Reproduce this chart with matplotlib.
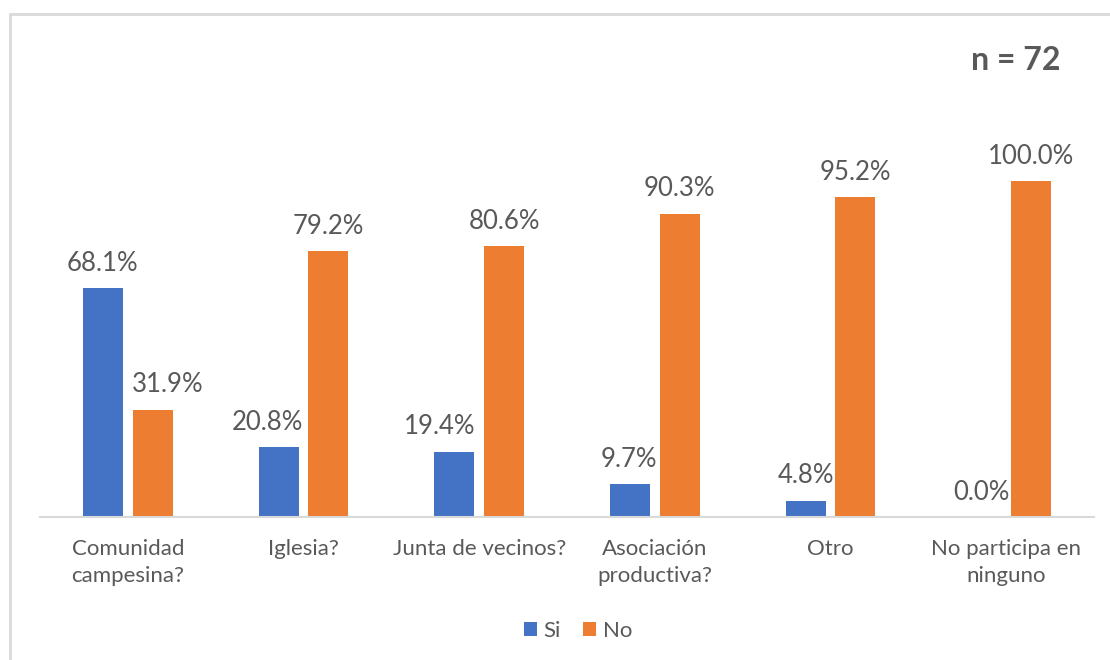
import matplotlib.pyplot as plt
import numpy as np
from matplotlib.patches import Rectangle

plt.rcParams["font.family"] = ["Lato", "DejaVu Sans"]

categories = ["Comunidad\ncampesina?", "Iglesia?", "Junta de vecinos?",
              "Asociación\nproductiva?", "Otro", "No participa en\nninguno"]
si_vals = [68.1, 20.8, 19.4, 9.7, 4.8, 0.0]
no_vals = [31.9, 79.2, 80.6, 90.3, 95.2, 100.0]
series_names = ["Si", "No"]
sample_note = "n = 72"

# horizontal nudges (px) Excel applied so labels don't collide with neighbours
si_nudge = [0, -11, -15, -1, 0, 0]
no_nudge = [15, 0, 0, 0, 0, 0]

BLUE = "#4472C4"
ORANGE = "#ED7D31"
TEXT = "#595959"

W, H = 1110, 660
fig = plt.figure(figsize=(W / 100, H / 100), dpi=100)

# chart frame (runs off right/bottom edges like the screenshot)
fig.patches.append(Rectangle((10 / W, -0.05), 1.1, 1 - 14 / H + 0.05,
                             transform=fig.transFigure, fill=False,
                             edgecolor="#D9D9D9", linewidth=2))

ax = fig.add_axes([40 / W, 1 - 517 / H, 1054 / W, (517 - 114) / H])
x = np.arange(len(categories))
bw = 0.228
off = 0.142
b1 = ax.bar(x - off, si_vals, bw, color=BLUE, label=series_names[0])
b2 = ax.bar(x + off, no_vals, bw, color=ORANGE, label=series_names[1])

for bars, vals, nudge in ((b1, si_vals, si_nudge), (b2, no_vals, no_nudge)):
    for rect, v, dx in zip(bars, vals, nudge):
        ax.annotate(f"{v:.1f}%", (rect.get_x() + rect.get_width() / 2, v),
                    xytext=(dx * 0.72, 9), textcoords="offset points",
                    ha="center", va="bottom", fontsize=18.5, color=TEXT)

ax.set_xlim(-0.5, len(categories) - 0.5)
ax.set_ylim(0, 120)
ax.set_yticks([])
for s in ("top", "right", "left"):
    ax.spines[s].set_visible(False)
ax.spines["bottom"].set_color("#D9D9D9")
ax.spines["bottom"].set_linewidth(1.5)
ax.set_xticks(x)
ax.set_xticklabels(categories, fontsize=16, color=TEXT, linespacing=1.45)
ax.tick_params(axis="x", length=0, pad=16)

fig.text(1016 / W, 1 - 60 / H, sample_note, ha="center", va="center",
         fontsize=23, fontweight="bold", color=TEXT)

fig.legend(handles=[b1, b2], loc="center", bbox_to_anchor=(578 / W, 1 - 631 / H),
           ncol=2, frameon=False, fontsize=16, labelcolor=TEXT,
           handlelength=0.6, handleheight=0.6, handletextpad=0.3, columnspacing=1.0)

fig.savefig("out.png", dpi=100, facecolor="white")
